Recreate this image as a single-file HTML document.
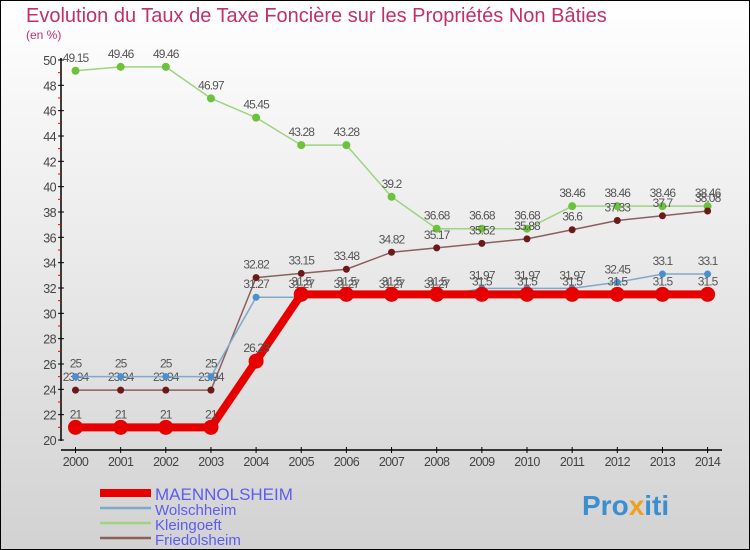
<!DOCTYPE html>
<html><head><meta charset="utf-8"><style>
body{margin:0;}
#c{width:750px;height:550px;position:relative;box-sizing:border-box;border:1px solid #000;background:linear-gradient(#ffffff,#d2d2d2);overflow:hidden;font-family:"Liberation Sans",sans-serif;}
</style></head><body>
<div id="c">
<svg id="s" width="750" height="550" style="position:absolute;left:-1px;top:-1px">
<text x="26" y="22" font-size="20" fill="#c0306a">Evolution du Taux de Taxe Foncière sur les Propriétés Non Bâties</text>
<text x="26" y="39" font-size="12" fill="#c0306a">(en %)</text>
<g id="axes"></g><g id="series"></g>
<g>
<line x1="100" y1="493" x2="151" y2="493" stroke="#e60000" stroke-width="8"/>
<text x="155" y="500" font-size="17" fill="#5c5cf0">MAENNOLSHEIM</text>
<line x1="100" y1="508" x2="151" y2="508" stroke="#7fa9cc" stroke-width="2.5"/>
<text x="155" y="515" font-size="15" fill="#5c5cf0">Wolschheim</text>
<line x1="100" y1="523" x2="151" y2="523" stroke="#9dd47f" stroke-width="2.5"/>
<text x="155" y="530" font-size="15" fill="#5c5cf0">Kleingoeft</text>
<line x1="100" y1="538" x2="151" y2="538" stroke="#8c5f5f" stroke-width="2.5"/>
<text x="155" y="545" font-size="15" fill="#5c5cf0">Friedolsheim</text>
</g>
<text x="582" y="515" font-size="28" font-weight="bold" fill="#3a8fd0">Pro<tspan fill="#f0a020">x</tspan>iti</text>
</svg>
</div>
<script>
const years=[2000,2001,2002,2003,2004,2005,2006,2007,2008,2009,2010,2011,2012,2013,2014];
const maenn=[21,21,21,21,26.23,31.5,31.5,31.5,31.5,31.5,31.5,31.5,31.5,31.5,31.5];
const wolsch=[25,25,25,25,31.27,31.27,31.27,31.27,31.27,31.97,31.97,31.97,32.45,33.1,33.1];
const klein=[49.15,49.46,49.46,46.97,45.45,43.28,43.28,39.2,36.68,36.68,36.68,38.46,38.46,38.46,38.46];
const fried=[23.94,23.94,23.94,23.94,32.82,33.15,33.48,34.82,35.17,35.52,35.88,36.6,37.33,37.7,38.08];
const yTicks=[20,22,24,26,28,30,32,34,36,38,40,42,44,46,48,50];
const NS="http://www.w3.org/2000/svg";
const X=i=>75.5+i*45.15;
const Y=v=>440-(v-20)*12.667;
function mk(t,a,p){const e=document.createElementNS(NS,t);for(const k in a)e.setAttribute(k,a[k]);p.appendChild(e);return e;}
const ax=document.getElementById('axes');
let e=mk('line',{x1:61,y1:58,x2:61,y2:441,stroke:'#000','stroke-width':1.5},ax);


e=mk('line',{x1:61,y1:450,x2:722,y2:450,stroke:'#000','stroke-width':1.5},ax);


yTicks.forEach(v=>{
 mk('line',{x1:58,x2:64,y1:Y(v),y2:Y(v),stroke:'#000'},ax);
 if(v<50)mk('line',{x1:58,x2:61,y1:Y(v+1),y2:Y(v+1),stroke:'#e00'},ax);
 const t=mk('text',{x:56,y:Y(v)+5,'font-size':12.5,'text-anchor':'end',fill:'#444','letter-spacing':'-0.6'},ax);
 t.textContent=v;
 
 
});
years.forEach((y,i)=>{
 mk('line',{x1:X(i),x2:X(i),y1:447,y2:453,stroke:'#000'},ax);
 const t=mk('text',{x:X(i),y:466,'font-size':12.5,'text-anchor':'middle',fill:'#444','letter-spacing':'-0.6'},ax);
 t.textContent=y;
 
 
});
const sg=document.getElementById('series');
function draw(vals,col,dot,w,r,name){
 const g=mk('g',{},sg);
 
 
 const pl=mk('polyline',{points:vals.map((v,i)=>X(i)+','+Y(v)).join(' '),fill:'none',stroke:col,'stroke-width':w,'stroke-linejoin':'round'},g);
 
 
 vals.forEach((v,i)=>{
  const c=mk('circle',{cx:X(i),cy:Y(v),r:r,fill:dot},g);
  
  
  const t=mk('text',{x:X(i),y:Y(v)-9,'font-size':12,'text-anchor':'middle',fill:'#555','letter-spacing':'-0.9'},g);
  t.textContent=v;
  
  
 });
}
draw(klein,'#9dd47f','#6cc23a',1.5,4,'kleingoeft');
draw(fried,'#8c5f5f','#6b1a1a',1.5,3.5,'friedolsheim');
draw(wolsch,'#7fa9cc','#4a8fd0',1.5,3.5,'wolschheim');
draw(maenn,'#e60000','#e60000',8,7.5,'maennolsheim');
</script>
</body></html>
